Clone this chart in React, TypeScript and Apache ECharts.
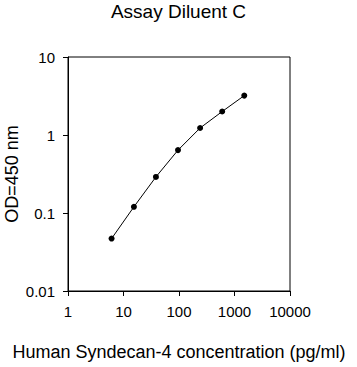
import React, { useEffect, useRef } from "react";
import * as echarts from "echarts";

const concentrations = [6.1, 15.4, 38.4, 96, 240, 600, 1500];
const odValues = [0.047, 0.12, 0.29, 0.64, 1.23, 2.0, 3.2];
const xTickLabels = ["1", "10", "100", "1000", "10000"];
const yTickLabels = ["0.01", "0.1", "1", "10"];

const FONT = "'Liberation Sans', Arial, sans-serif";

export default function App() {
  const ref = useRef<HTMLDivElement>(null);
  useEffect(() => {
    if (!ref.current) return;
    const chart = echarts.init(ref.current, undefined, { renderer: "svg" });
    const xMap: Record<string, string> = {};
    [1, 10, 100, 1000, 10000].forEach((v, i) => (xMap[String(v)] = xTickLabels[i]));
    const yMap: Record<string, string> = {};
    [0.01, 0.1, 1, 10].forEach((v, i) => (yMap[String(v)] = yTickLabels[i]));
    chart.setOption({
      animation: false,
      backgroundColor: "#ffffff",
      title: {
        text: "Assay Diluent C",
        left: "center",
        top: 0,
        padding: [2, 5],
        textStyle: { fontFamily: FONT, fontSize: 19, fontWeight: "normal", color: "#000" },
      },
      grid: {
        left: 68,
        top: 57,
        width: 222,
        height: 234,
        show: true,
        borderColor: "#000",
        borderWidth: 1,
        containLabel: false,
        outerBoundsMode: "none",
      },
      xAxis: {
        type: "log",
        logBase: 10,
        min: 1,
        max: 10000,
        name: "Human Syndecan-4 concentration (pg/ml)",
        nameLocation: "middle",
        nameGap: 52,
        nameMoveOverlap: false,
        nameTextStyle: { fontFamily: FONT, fontSize: 18, color: "#000" },
        axisLine: { lineStyle: { color: "#000", width: 1 } },
        axisTick: { show: true, inside: false, length: 5, lineStyle: { color: "#000" } },
        minorTick: { show: false },
        splitLine: { show: false },
        axisLabel: {
          fontFamily: FONT,
          fontSize: 15,
          color: "#000",
          margin: 13,
          formatter: (v: number) => xMap[String(v)] ?? String(v),
        },
      },
      yAxis: {
        type: "log",
        logBase: 10,
        min: 0.01,
        max: 10,
        name: "OD=450 nm",
        nameLocation: "middle",
        nameGap: 47,
        nameMoveOverlap: false,
        nameTextStyle: { fontFamily: FONT, fontSize: 18, color: "#000" },
        axisLine: { lineStyle: { color: "#000", width: 1 } },
        axisTick: { show: true, inside: false, length: 5, lineStyle: { color: "#000" } },
        splitLine: { show: false },
        axisLabel: {
          fontFamily: FONT,
          fontSize: 15,
          color: "#000",
          margin: 13,
          formatter: (v: number) => {
            const k = String(Number(v.toPrecision(3)));
            return yMap[k] ?? k;
          },
        },
      },
      series: [
        {
          type: "line",
          data: concentrations.map((c, i) => [c, odValues[i]]),
          symbol: "circle",
          symbolSize: 6,
          itemStyle: { color: "#000" },
          lineStyle: { color: "#000", width: 1 },
        },
      ],
    });
    return () => chart.dispose();
  }, []);
  return <div ref={ref} style={{ width: 357, height: 367, position: "absolute", left: 0, top: 0 }} />;
}
